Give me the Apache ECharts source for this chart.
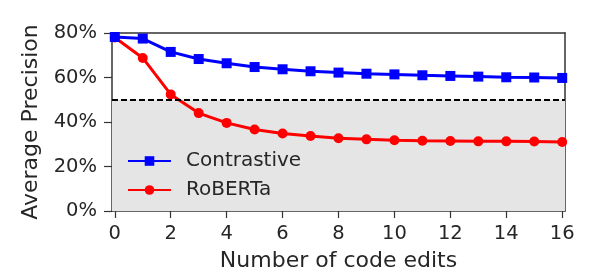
<!DOCTYPE html>
<html><head><meta charset="utf-8">
<script src="https://cdn.jsdelivr.net/npm/echarts@6/dist/echarts.min.js"></script>
<style>html,body{margin:0;padding:0;background:#fff}#c{width:598px;height:271px}</style>
</head><body><div id="c"></div>
<script>
var edits = [0,1,2,3,4,5,6,7,8,9,10,11,12,13,14,15,16];
var contrastive = [78.2,77.5,71.5,68.3,66.4,64.7,63.7,62.8,62.2,61.7,61.4,61.0,60.7,60.4,60.1,60.0,59.8];
var roberta = [78.0,68.8,52.4,44.0,39.6,36.6,34.8,33.7,32.7,32.2,31.8,31.6,31.5,31.3,31.3,31.2,31.0];
var xTicks = [0,2,4,6,8,10,12,14,16];
var threshold = 50;

var F = 'DejaVu Sans';
var TC = '#262626';
var chart = echarts.init(document.getElementById('c'), null, {renderer:'canvas'});
function pairs(v){ return edits.map(function(x,i){ return [x, v[i]]; }); }
chart.setOption({
  animation:false,
  grid:{left:112, right:33, top:33, bottom:60, outerBoundsMode:'none', containLabel:false},
  legend:{
    left:127, top:151, orient:'vertical', padding:0, itemWidth:43, itemHeight:12, itemGap:9,
    textStyle:{fontFamily:F, fontSize:20, lineHeight:20, color:TC, padding:[0,0,0,10]},
    data:['Contrastive','RoBERTa']
  },
  xAxis:[{
    type:'value', min:-0.1, max:16.1,
    name:'Number of code edits', nameLocation:'middle', nameGap:39,
    nameTextStyle:{fontFamily:F, fontSize:22, color:TC},
    axisLine:{show:true, onZero:false, lineStyle:{color:'#333', width:1.5}},
    axisTick:{show:true, length:7, customValues:xTicks, lineStyle:{color:'#333', width:1.2}},
    axisLabel:{customValues:xTicks, fontFamily:F, fontSize:19.5, color:TC, margin:13},
    splitLine:{show:false}
  },{
    type:'value', position:'top', min:-0.1, max:16.1,
    axisLine:{show:true, onZero:false, lineStyle:{color:'#333', width:1.5}},
    axisTick:{show:false}, axisLabel:{show:false}, splitLine:{show:false}
  }],
  yAxis:[{
    type:'value', min:0, max:80, interval:20,
    name:'Average Precision', nameLocation:'middle', nameGap:62,
    nameTextStyle:{fontFamily:F, fontSize:22, color:TC},
    axisLine:{show:true, onZero:false, lineStyle:{color:'#333', width:1.5}},
    axisTick:{show:true, length:8, lineStyle:{color:'#333', width:1.2}},
    axisLabel:{formatter:'{value}%', fontFamily:F, fontSize:19.5, color:TC, margin:15},
    splitLine:{show:false}
  },{
    type:'value', position:'right', min:0, max:80,
    axisLine:{show:true, onZero:false, lineStyle:{color:'#333', width:1.5}},
    axisTick:{show:false}, axisLabel:{show:false}, splitLine:{show:false}
  }],
  series:[{
    name:'RoBERTa', type:'line', data:pairs(roberta), z:3,
    symbol:'circle', symbolSize:10,
    lineStyle:{color:'#ff0000', width:3}, itemStyle:{color:'#ff0000'},
    markArea:{silent:true, itemStyle:{color:'#e5e5e5'}, data:[[{yAxis:0},{yAxis:threshold}]]},
    markLine:{silent:true, symbol:'none', label:{show:false},
      lineStyle:{color:'#000', type:[6,3], width:1.8}, data:[{yAxis:threshold}]}
  },{
    name:'Contrastive', type:'line', data:pairs(contrastive), z:4,
    symbol:'rect', symbolSize:10,
    lineStyle:{color:'#0000ff', width:3}, itemStyle:{color:'#0000ff'}
  }]
});
</script></body></html>
